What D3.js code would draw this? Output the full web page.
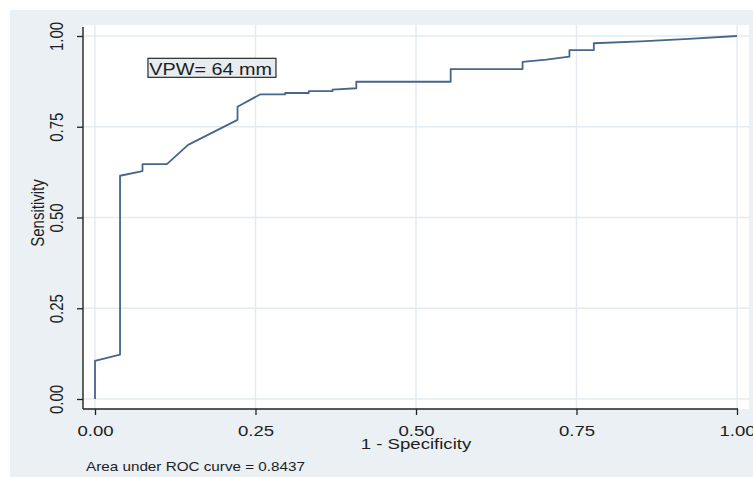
<!DOCTYPE html>
<html>
<head>
<meta charset="utf-8">
<script src="https://cdn.jsdelivr.net/npm/d3@7"></script>
<style>
  html, body { margin: 0; padding: 0; background: #ffffff; }
  svg { display: block; }
  text { font-family: "Liberation Sans", Arial, sans-serif; fill: #1e1e1e; }
</style>
</head>
<body>
<svg id="chart" width="753" height="477"></svg>
<script>
// ---- data ----
const fpr = [0, 0, 0.039, 0.039, 0.074, 0.074, 0.112, 0.145, 0.222, 0.222, 0.257,
             0.296, 0.296, 0.333, 0.333, 0.370, 0.370, 0.407, 0.407, 0.554, 0.554,
             0.666, 0.666, 0.703, 0.739, 0.739, 0.777, 0.777, 0.850, 0.925, 1.000];
const tpr = [0, 0.105, 0.122, 0.615, 0.628, 0.647, 0.647, 0.700, 0.769, 0.805, 0.839,
             0.839, 0.843, 0.843, 0.848, 0.848, 0.852, 0.856, 0.874, 0.874, 0.909,
             0.909, 0.929, 0.935, 0.943, 0.961, 0.961, 0.980, 0.985, 0.992, 1.000];
const tickValues = [0, 0.25, 0.5, 0.75, 1];
const xTitle = "1 - Specificity";
const yTitle = "Sensitivity";
const note = "Area under ROC curve = 0.8437";
const label = "VPW= 64 mm";

// ---- layout ----
const SX = 1.24; // horizontal stretch seen in the reference text
const svg = d3.select("#chart");
const plotL = 83, plotR = 749, plotT = 25, plotB = 409;
const x = d3.scaleLinear().domain([0, 1]).range([95, 737]);
const y = d3.scaleLinear().domain([0, 1]).range([399, 36]);

// outer background
svg.append("rect").attr("x", 10).attr("y", 10).attr("width", 743).attr("height", 467)
  .attr("fill", "#eaf0f3");
// plot region
svg.append("rect").attr("x", plotL).attr("y", plotT)
  .attr("width", plotR - plotL).attr("height", plotB - plotT).attr("fill", "#ffffff");

// grid lines
const grid = svg.append("g").attr("stroke", "#e3ebf0").attr("stroke-width", 1.5);
grid.selectAll("line.h").data(tickValues).join("line").attr("class", "h")
  .attr("x1", plotL).attr("x2", plotR).attr("y1", d => y(d)).attr("y2", d => y(d));
grid.selectAll("line.v").data(tickValues).join("line").attr("class", "v")
  .attr("y1", plotT).attr("y2", plotB).attr("x1", d => x(d)).attr("x2", d => x(d));

// axes
const fmt = d3.format(".2f");
const xAxis = svg.append("g").attr("transform", `translate(0,${plotB})`)
  .call(d3.axisBottom(x).tickValues(tickValues).tickFormat(fmt).tickSize(6).tickSizeOuter(0));
xAxis.select(".domain").remove();
xAxis.selectAll(".tick line").attr("stroke", "#222").attr("stroke-width", 1.3);
xAxis.selectAll(".tick text")
  .attr("y", 27).attr("dy", 0)
  .attr("transform", `scale(${SX},1)`)
  .attr("x", 0)
  .style("font-size", "15px").style("fill", "#1e1e1e");
xAxis.selectAll(".tick").each(function(d) {
  // keep label centre on tick despite scaling
  d3.select(this).select("text").attr("text-anchor", "middle");
});

const yAxis = svg.append("g").attr("transform", `translate(${plotL},0)`)
  .call(d3.axisLeft(y).tickValues(tickValues).tickFormat(fmt).tickSize(6).tickSizeOuter(0));
yAxis.select(".domain").remove();
yAxis.selectAll(".tick line").attr("stroke", "#222").attr("stroke-width", 1.3);
yAxis.selectAll(".tick text")
  .attr("x", 0).attr("dy", 0)
  .attr("text-anchor", "middle")
  .attr("transform", `translate(-20,0) scale(${SX},1) rotate(-90)`)
  .style("font-size", "15px").style("fill", "#1e1e1e");

// axis lines
svg.append("line").attr("x1", plotL).attr("x2", plotL).attr("y1", plotT + 2).attr("y2", plotB)
  .attr("stroke", "#222").attr("stroke-width", 1.4);
svg.append("line").attr("x1", plotL).attr("x2", x(1) + 1).attr("y1", plotB).attr("y2", plotB)
  .attr("stroke", "#222").attr("stroke-width", 1.4);

// ROC curve
const pts = fpr.map((f, i) => [f, tpr[i]]);
svg.append("path").datum(pts)
  .attr("fill", "none").attr("stroke", "#46668a").attr("stroke-width", 1.8)
  .attr("stroke-linejoin", "round")
  .attr("d", d3.line().x(d => x(d[0])).y(d => y(d[1])));

// annotation box
const bx = x(0.0825), by = y(0.9385);
const lab = svg.append("g").attr("transform", `translate(${bx},${by})`);
lab.append("rect").attr("x", 0).attr("y", 0).attr("width", 128).attr("height", 19)
  .attr("fill", "#e6ecf0").attr("stroke", "#2a2a2a").attr("stroke-width", 1.2);
lab.append("text").attr("x", 1).attr("y", 17)
  .attr("transform", `scale(${SX},1)`)
  .style("font-size", "16px").text(label);

// titles
svg.append("text").attr("transform", `translate(${x(0.5)},449) scale(${SX},1)`)
  .attr("text-anchor", "middle").style("font-size", "15px").text(xTitle);
svg.append("text").attr("transform", `translate(44,213) scale(${SX},1) rotate(-90)`)
  .attr("text-anchor", "middle").style("font-size", "15px").text(yTitle);
svg.append("text").attr("transform", `translate(86,471) scale(${SX},1)`)
  .style("font-size", "12.3px").text(note);
</script>
</body>
</html>
